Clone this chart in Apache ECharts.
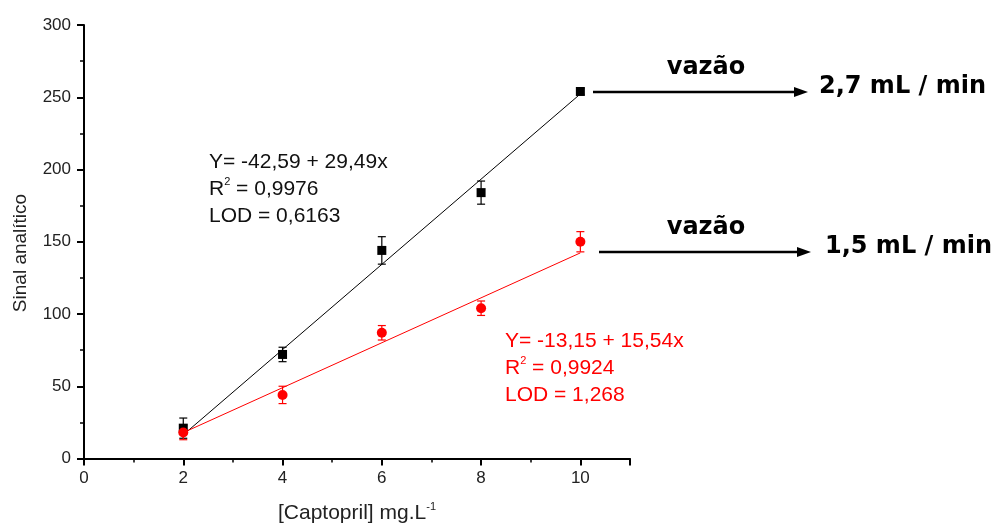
<!DOCTYPE html>
<html>
<head>
<meta charset="utf-8">
<script src="https://cdn.jsdelivr.net/npm/echarts@6/dist/echarts.min.js"></script>
<style>html,body{margin:0;padding:0;background:#fff}#c{width:992px;height:529px}</style>
</head>
<body>
<div id="c"></div>
<script>
var xValues = [2, 4, 6, 8, 10];
var blackY = [21, 72, 144, 184, 254];
var blackErr = [7, 5, 9.5, 8, 2];
var redY = [18, 44, 87, 104, 150];
var redErr = [5, 6, 5, 5, 7];
var blackFitX = [2, 10];
var blackFitY = [16.4, 252.3];
var redFitX = [2, 10];
var redFitY = [17.9, 142.3];
var blackLabel = ['Y= -42,59 + 29,49x', 'R{sup|2} = 0,9976', 'LOD = 0,6163'];
var redLabel = ['Y= -13,15 + 15,54x', 'R{sup|2} = 0,9924', 'LOD = 1,268'];
var flowTop = ['vazão', '2,7 mL / min'];
var flowBottom = ['vazão', '1,5 mL / min'];
var yAxisTitle = 'Sinal analítico';
var xAxisTitle = '[Captopril] mg.L{sup|-1}';

function pts(xs, ys) { return xs.map(function (x, i) { return [x, ys[i]]; }); }
function errs(xs, ys, es) { return xs.map(function (x, i) { return [x, ys[i] - es[i], ys[i] + es[i]]; }); }

function errorRender(color) {
  return function (params, api) {
    var x = api.value(0);
    var lo = api.coord([x, api.value(1)]);
    var hi = api.coord([x, api.value(2)]);
    var w = 4;
    var st = { stroke: color, lineWidth: 1.2 };
    return {
      type: 'group',
      children: [
        { type: 'line', shape: { x1: lo[0], y1: lo[1], x2: hi[0], y2: hi[1] }, style: st },
        { type: 'line', shape: { x1: lo[0] - w, y1: lo[1], x2: lo[0] + w, y2: lo[1] }, style: st },
        { type: 'line', shape: { x1: hi[0] - w, y1: hi[1], x2: hi[0] + w, y2: hi[1] }, style: st }
      ]
    };
  };
}

var chart = echarts.init(document.getElementById('c'), null, { renderer: 'canvas' });
var FF = '"Liberation Sans", Arial, sans-serif';
var FB = '"DejaVu Sans", sans-serif';
var supRich = { sup: { fontSize: 11, verticalAlign: 'top', lineHeight: 22 } };

var option = {
  backgroundColor: '#fff',
  animation: false,
  textStyle: { fontFamily: FF },
  grid: { left: 84, right: 362, top: 25, bottom: 70, containLabel: false },
  xAxis: {
    type: 'value', min: 0, max: 11, interval: 2,
    axisLine: { show: true, onZero: false, lineStyle: { color: '#000', width: 2 } },
    axisTick: { show: true, inside: false, length: 7, lineStyle: { color: '#000', width: 2 } },
    minorTick: { show: true, splitNumber: 2, length: 4, lineStyle: { color: '#000', width: 1.5 } },
    splitLine: { show: false },
    axisLabel: { color: '#222', fontSize: 17, margin: 11, fontFamily: FF,
      formatter: function (v) { return v > 10 ? '' : v; } },
    name: xAxisTitle,
    nameLocation: 'middle', nameGap: 43,
    nameTextStyle: { color: '#222', fontSize: 21, fontFamily: FF, rich: { sup: { fontSize: 11, verticalAlign: 'top', lineHeight: 24 } } }
  },
  yAxis: {
    type: 'value', min: 0, max: 300, interval: 50,
    axisLine: { show: true, lineStyle: { color: '#000', width: 2 } },
    axisTick: { show: true, inside: false, length: 7, lineStyle: { color: '#000', width: 2 } },
    minorTick: { show: true, splitNumber: 2, length: 4, lineStyle: { color: '#000', width: 1.5 } },
    splitLine: { show: false },
    axisLabel: { color: '#222', fontSize: 17, margin: 13, fontFamily: FF }
  },
  series: [
    { type: 'line', data: pts(blackFitX, blackFitY), symbol: 'none', lineStyle: { color: '#000', width: 1 }, z: 2 },
    { type: 'line', data: pts(redFitX, redFitY), symbol: 'none', lineStyle: { color: '#ff0000', width: 1 }, z: 2 },
    { type: 'custom', data: errs(xValues, blackY, blackErr), renderItem: errorRender('#000'), z: 3 },
    { type: 'custom', data: errs(xValues, redY, redErr), renderItem: errorRender('#ff0000'), z: 3 },
    { type: 'scatter', data: pts(xValues, blackY), symbol: 'rect', symbolSize: 9, itemStyle: { color: '#000', opacity: 1 }, z: 4 },
    { type: 'scatter', data: pts(xValues, redY), symbol: 'circle', symbolSize: 10, itemStyle: { color: '#ff0000', opacity: 1 }, z: 5 }
  ],
  graphic: [
    { type: 'text', x: 21, y: 253, rotation: Math.PI / 2, style: { text: yAxisTitle, fill: '#222', font: '19px ' + FF, textAlign: 'center', textVerticalAlign: 'middle' } },
    { type: 'text', left: 209, top: 149, style: { text: blackLabel.join('\n'), fill: '#111', font: '21px ' + FF, lineHeight: 27, rich: supRich } },
    { type: 'text', left: 505, top: 328, style: { text: redLabel.join('\n'), fill: '#ff0000', font: '21px ' + FF, lineHeight: 27, rich: supRich } },
    { type: 'line', shape: { x1: 593, y1: 92, x2: 796, y2: 92 }, style: { stroke: '#000', lineWidth: 2.3 } },
    { type: 'polygon', shape: { points: [[808, 92], [794, 87], [794, 97]] }, style: { fill: '#000' } },
    { type: 'line', shape: { x1: 599, y1: 252, x2: 799, y2: 252 }, style: { stroke: '#000', lineWidth: 2.3 } },
    { type: 'polygon', shape: { points: [[811, 252], [797, 247], [797, 257]] }, style: { fill: '#000' } },
    { type: 'text', x: 706, y: 68, style: { text: flowTop[0], fill: '#000', font: 'bold 24px ' + FB, textAlign: 'center', textVerticalAlign: 'middle' } },
    { type: 'text', x: 819, y: 87, style: { text: flowTop[1], fill: '#000', font: 'bold 24px ' + FB, textAlign: 'left', textVerticalAlign: 'middle' } },
    { type: 'text', x: 706, y: 228, style: { text: flowBottom[0], fill: '#000', font: 'bold 24px ' + FB, textAlign: 'center', textVerticalAlign: 'middle' } },
    { type: 'text', x: 825, y: 247, style: { text: flowBottom[1], fill: '#000', font: 'bold 24px ' + FB, textAlign: 'left', textVerticalAlign: 'middle' } }
  ]
};
chart.setOption(option);
</script>
</body>
</html>
